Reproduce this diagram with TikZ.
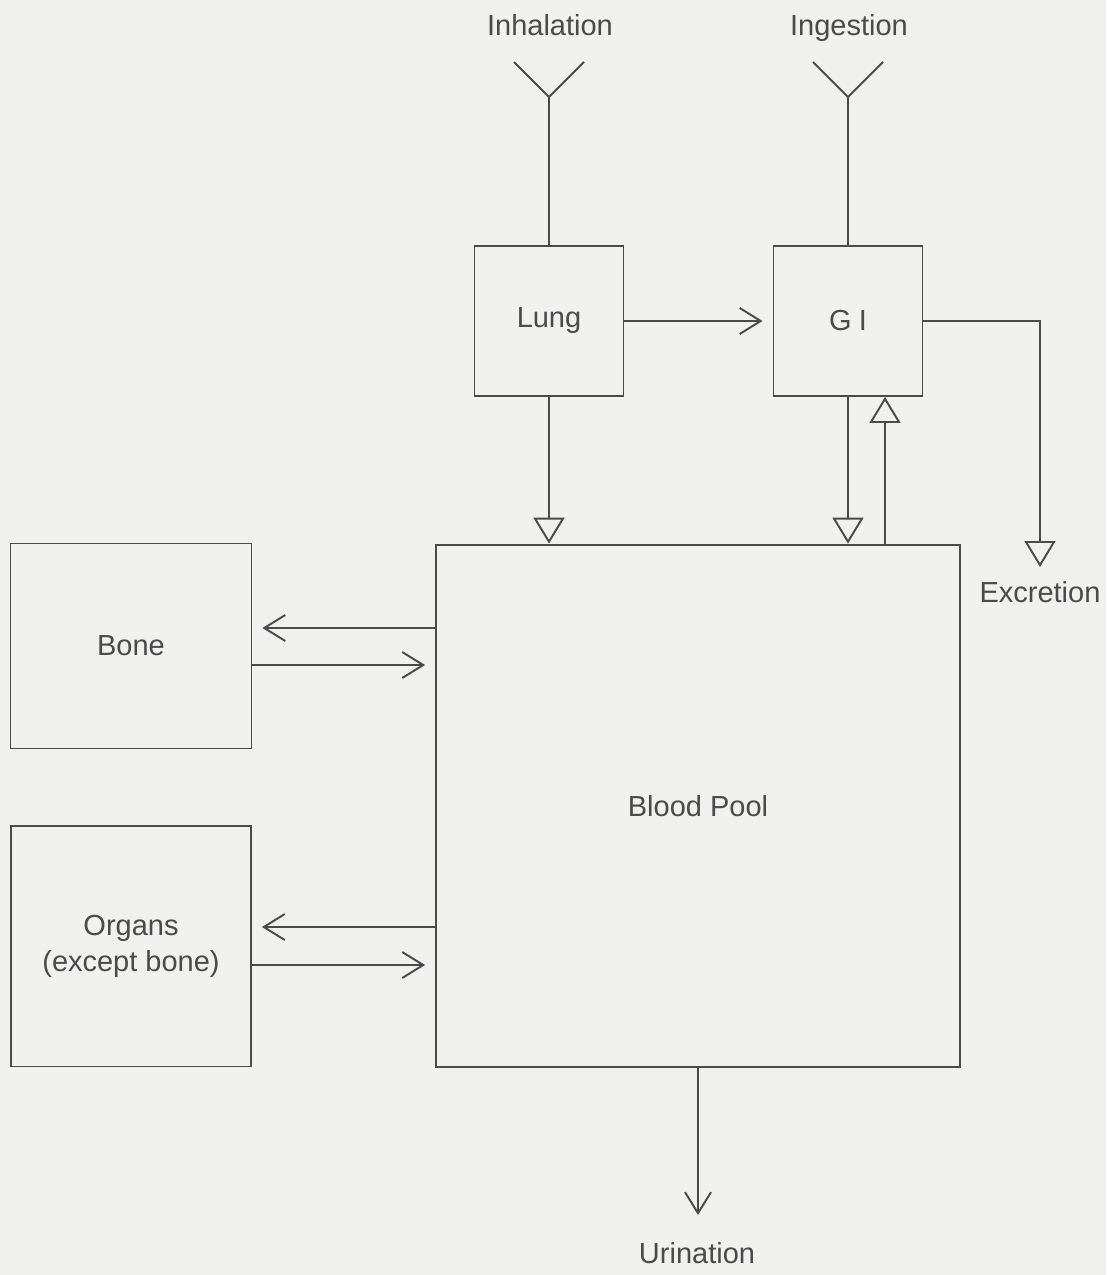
\documentclass[tikz,border=0pt]{standalone}
\usepackage{fontspec}
\setmainfont{Liberation Sans}
\usepackage{xcolor}
\usetikzlibrary{arrows.meta,positioning,calc}
\definecolor{paper}{HTML}{F0F0EF}
\definecolor{ink}{HTML}{4A4A4A}

\begin{document}
\begin{tikzpicture}[
    x=0.02cm, y=-0.02cm,
    font=\fontsize{16.5}{20.5}\selectfont, text=ink,
    box/.style={draw=ink, line width=1.1pt, align=center, inner sep=0pt},
    lbl/.style={align=center, inner sep=0pt, anchor=base},
    line/.style={draw=ink, line width=1.1pt},
    barb/.style={line, -{Straight Barb[length=0.42cm, width=0.52cm, line width=1.1pt]}},
    tri/.style={line, -{Triangle[open, length=0.52cm, width=0.62cm, line width=1.1pt]}},
]
    % Page
    \fill[paper] (0,0) rectangle (1106,1275);
    \useasboundingbox (0,0) rectangle (1106,1275);

    % Compartments
    \node[box, minimum width=2.98cm, minimum height=3cm] (lung) at (549, 321) {Lung};
    \node[box, minimum width=2.98cm, minimum height=3cm] (gi) at (848, 321) {G\hspace{0.25em}I};
    \node[box, minimum width=10.48cm, minimum height=10.46cm] (blood) at (698, 806) {Blood Pool};
    \node[box, minimum width=4.82cm, minimum height=4.1cm] (bone) at (131, 646) {Bone};
    \node[box, minimum width=4.8cm, minimum height=4.82cm] (organs) at (131, 946) {Organs\\(except bone)};

    % Inputs and outputs
    \node[lbl] (inhal) at (550, 35) {Inhalation};
    \node[lbl] (ingest) at (849, 35) {Ingestion};
    \node[lbl] (excr) at (1040, 602) {Excretion};
    \node[lbl] (urin) at (697, 1263) {Urination};
    \coordinate (inh) at (549, 97);
    \coordinate (ing) at (848, 97);
    \coordinate (exc) at (1040, 567);
    \coordinate (uri) at (698, 1215);

    % Intake funnels
    \draw[line] ($(inh)+(-35,-35)$) -- (inh) -- ($(inh)+(35,-35)$);
    \draw[line] ($(ing)+(-35,-35)$) -- (ing) -- ($(ing)+(35,-35)$);
    \draw[line] (inh) -- (lung.north);
    \draw[line] (ing) -- (gi.north);

    % Transfers
    \draw[barb] (lung.east) -- ($(gi.west)+(-10,0)$);
    \draw[tri] (lung.south) -- (lung.south |- blood.north);
    \draw[tri] (gi.south) -- (gi.south |- blood.north);
    \draw[tri] ($(gi.south |- blood.north)+(37,0)$) -- ($(gi.south)+(37,0)$);
    \draw[tri] (gi.east) -| (exc);

    \draw[barb] ($(blood.west |- bone.east)+(0,-18)$) -- ($(bone.east)+(10,-18)$);
    \draw[barb] ($(bone.east)+(0,19)$) -- ($(blood.west |- bone.east)+(-10,19)$);
    \draw[barb] ($(blood.west |- organs.east)+(0,-19)$) -- ($(organs.east)+(10,-19)$);
    \draw[barb] ($(organs.east)+(0,19)$) -- ($(blood.west |- organs.east)+(-10,19)$);

    \draw[barb] (blood.south) -- (uri);
\end{tikzpicture}
\end{document}
